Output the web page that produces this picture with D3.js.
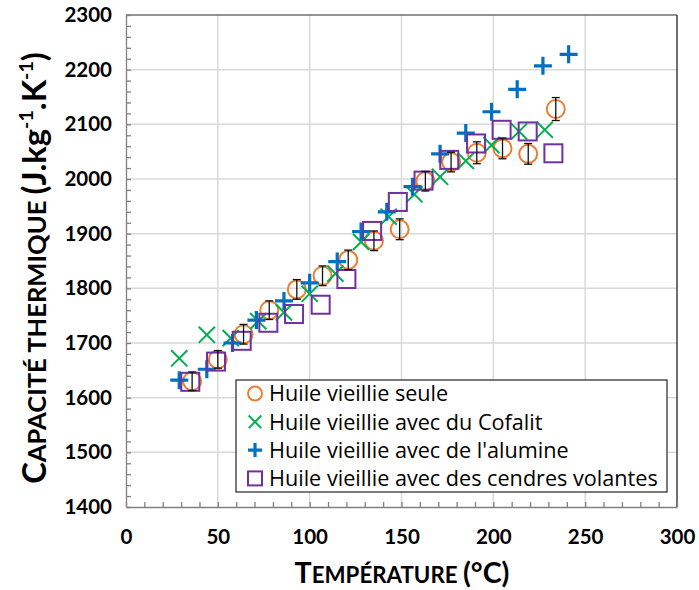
<!DOCTYPE html>
<html><head><meta charset="utf-8">
<script src="https://cdn.jsdelivr.net/npm/d3@7"></script>
<style>body{margin:0;background:#fff}svg{display:block}</style>
</head><body>
<svg id="c" width="699" height="590"></svg>
<script>
// ---- data ----
const seriesNames = ["Huile vieillie seule", "Huile vieillie avec du Cofalit", "Huile vieillie avec de l'alumine", "Huile vieillie avec des cendres volantes"];
const seuleX = [36, 50, 64, 78, 93, 107, 121, 135, 149, 163, 177, 191, 205, 219, 234];
const seuleY = [1630, 1670, 1716, 1760, 1798, 1823, 1852, 1887, 1908, 1996, 2031, 2048, 2056, 2046, 2128];
const seuleErr = [17, 16, 18, 17, 18, 18, 18, 18, 19, 18, 18, 20, 19, 19, 21];
const cofalitX = [29, 44, 57, 72, 86, 100, 114, 128, 143, 157, 171, 185, 199, 214, 228];
const cofalitY = [1672, 1715, 1709, 1740, 1756, 1790, 1827, 1885, 1931, 1972, 2004, 2033, 2062, 2087, 2090];
const alumineX = [29, 44, 58, 71, 86, 100, 115, 128, 142, 156, 171, 185, 199, 213, 227, 241];
const alumineY = [1632, 1652, 1700, 1742, 1777, 1810, 1849, 1904, 1940, 1986, 2046, 2084, 2123, 2164, 2207, 2228];
const cendresX = [35, 49, 63, 77.5, 91.5, 106, 120, 134, 148, 162, 176, 190.6, 204.5, 218.7, 232.7];
const cendresY = [1629, 1666, 1704, 1737, 1753, 1770, 1817, 1905, 1958, 1997, 2035, 2065, 2090, 2087, 2047];
const xTicks = [0, 50, 100, 150, 200, 250, 300];
const yTicks = [1400, 1500, 1600, 1700, 1800, 1900, 2000, 2100, 2200, 2300];

// ---- setup ----
const svg = d3.select("#c");
const L = 126, R = 677, T = 15, B = 507;
const x = d3.scaleLinear().domain([0, 300]).range([L, R]);
const y = d3.scaleLinear().domain([1400, 2300]).range([B, T]);
const colors = ["#ED7D31", "#00B050", "#0070C0", "#7030A0"];
const FONT = "Lato, 'Open Sans', sans-serif";
const LFONT = "'Open Sans', Lato, sans-serif";

// scale all font sizes inside a text element so its length matches target
function fit(textSel, target) {
  const w = textSel.node().getComputedTextLength();
  const k = target / w;
  textSel.selectAll("tspan").each(function () {
    const t = d3.select(this);
    t.attr("font-size", +t.attr("font-size") * k);
    if (t.attr("dy")) t.attr("dy", +t.attr("dy") * k);
  });
  if (textSel.attr("font-size")) textSel.attr("font-size", +textSel.attr("font-size") * k);
}

// grid
const g = svg.append("g");
g.selectAll("line.vg").data(xTicks.slice(1, -1)).join("line")
  .attr("x1", d => x(d)).attr("x2", d => x(d)).attr("y1", T).attr("y2", B)
  .attr("stroke", "#d9d9d9").attr("stroke-width", 1.5);
g.selectAll("line.hg").data(yTicks.slice(1, -1)).join("line")
  .attr("x1", L).attr("x2", R).attr("y1", d => y(d)).attr("y2", d => y(d))
  .attr("stroke", "#d9d9d9").attr("stroke-width", 1.5);

// border
svg.append("line").attr("x1", L).attr("x2", R).attr("y1", T).attr("y2", T).attr("stroke", "#707070").attr("stroke-width", 1.3);
svg.append("line").attr("x1", R).attr("x2", R).attr("y1", T).attr("y2", B).attr("stroke", "#222").attr("stroke-width", 1.3);

// minor ticks
const yMinor = d3.range(1400, 2301, 20);
const xMinor = d3.range(0, 301, 10);
const ya = svg.append("g").attr("transform", `translate(${L},0)`)
  .call(d3.axisLeft(y).tickValues(yMinor).tickSize(-5).tickFormat("").tickSizeOuter(0));
const xa = svg.append("g").attr("transform", `translate(0,${B})`)
  .call(d3.axisBottom(x).tickValues(xMinor).tickSize(-5).tickFormat("").tickSizeOuter(0));
[ya, xa].forEach(a => { a.selectAll("line,path").attr("stroke", "#808080").attr("stroke-width", 1.3); });

// tick labels
const yl = svg.append("g").attr("transform", `translate(${L},0)`)
  .call(d3.axisLeft(y).tickValues(yTicks).tickSize(0).tickPadding(14).tickFormat(d3.format("d")));
const xl = svg.append("g").attr("transform", `translate(0,${B})`)
  .call(d3.axisBottom(x).tickValues(xTicks).tickSize(0).tickPadding(22).tickFormat(d3.format("d")));
[yl, xl].forEach(a => {
  a.select(".domain").remove();
  a.selectAll("text").attr("font-family", FONT).attr("font-weight", "bold").attr("font-size", 20.5).attr("fill", "#000");
});

// markers
const seriesList = [
  {xs: seuleX, ys: seuleY, c: colors[0], type: "circle"},
  {xs: cofalitX, ys: cofalitY, c: colors[1], type: "x"},
  {xs: alumineX, ys: alumineY, c: colors[2], type: "plus"},
  {xs: cendresX, ys: cendresY, c: colors[3], type: "square"}
];
function marker(sel, type, color, s) {
  if (type === "circle") {
    sel.append("circle").attr("r", s).attr("fill", "none").attr("stroke", color).attr("stroke-width", 2);
  } else if (type === "x") {
    const h = s * 0.9;
    sel.append("path").attr("d", `M${-h},${-h}L${h},${h}M${-h},${h}L${h},${-h}`)
      .attr("stroke", color).attr("stroke-width", 2).attr("fill", "none");
  } else if (type === "plus") {
    sel.append("path").attr("d", `M${-s},0L${s},0M0,${-s}L0,${s}`)
      .attr("stroke", color).attr("stroke-width", 3.2).attr("fill", "none");
  } else {
    sel.append("rect").attr("x", -s).attr("y", -s).attr("width", 2 * s).attr("height", 2 * s)
      .attr("fill", "none").attr("stroke", color).attr("stroke-width", 2);
  }
}
seriesList.forEach(sr => {
  const gg = svg.append("g");
  sr.xs.forEach((xv, i) => {
    const m = gg.append("g").attr("transform", `translate(${x(xv)},${y(sr.ys[i])})`);
    marker(m, sr.type, sr.c, 9);
  });
});

// error bars
const eb = svg.append("g").attr("stroke", "#111").attr("stroke-width", 1.3);
seuleX.forEach((xv, i) => {
  const cx = x(xv), y1 = y(seuleY[i] + seuleErr[i]), y2 = y(seuleY[i] - seuleErr[i]);
  eb.append("line").attr("x1", cx).attr("x2", cx).attr("y1", y1).attr("y2", y2);
  eb.append("line").attr("x1", cx - 4).attr("x2", cx + 4).attr("y1", y1).attr("y2", y1);
  eb.append("line").attr("x1", cx - 4).attr("x2", cx + 4).attr("y1", y2).attr("y2", y2);
});

// legend
const lg = svg.append("g");
lg.append("rect").attr("x", 236).attr("y", 380).attr("width", 431).attr("height", 112)
  .attr("fill", "#fff").attr("stroke", "#222").attr("stroke-width", 1.2);
const types = ["circle", "x", "plus", "square"];
const ltexts = [];
seriesNames.forEach((nm, i) => {
  const cy = 393.5 + i * 28.3;
  const m = lg.append("g").attr("transform", `translate(255,${cy})`);
  marker(m, types[i], colors[i], 7);
  ltexts.push(lg.append("text").attr("x", 269).attr("y", cy).attr("dy", "0.36em")
    .attr("font-family", LFONT).attr("font-size", 18).attr("fill", "#000").text(nm));
});
{
  const w = ltexts[3].node().getComputedTextLength();
  const fs = 18 * 389 / w;
  ltexts.forEach(t => t.attr("font-size", fs));
}

// axis titles
const xt = svg.append("text").attr("x", 402).attr("y", 583).attr("text-anchor", "middle")
  .attr("font-family", FONT).attr("font-weight", "bold").attr("fill", "#000");
xt.append("tspan").attr("font-size", 25).text("T");
xt.append("tspan").attr("font-size", 19.5).text("EMPÉRATURE ");
xt.append("tspan").attr("font-size", 25).text("(°C)");
fit(xt, 215);

const yt = svg.append("text").attr("transform", "translate(46,268) rotate(-90)").attr("text-anchor", "middle")
  .attr("font-family", FONT).attr("font-weight", "bold").attr("fill", "#000");
yt.append("tspan").attr("font-size", 25).text("C");
yt.append("tspan").attr("font-size", 19.5).text("APACITÉ THERMIQUE ");
yt.append("tspan").attr("font-size", 25).text("(J.kg");
yt.append("tspan").attr("font-size", 15).attr("dy", -10).text("-1");
yt.append("tspan").attr("font-size", 25).attr("dy", 10).text(".K");
yt.append("tspan").attr("font-size", 15).attr("dy", -10).text("-1");
yt.append("tspan").attr("font-size", 25).attr("dy", 10).text(")");
fit(yt, 432);
</script>
</body></html>
